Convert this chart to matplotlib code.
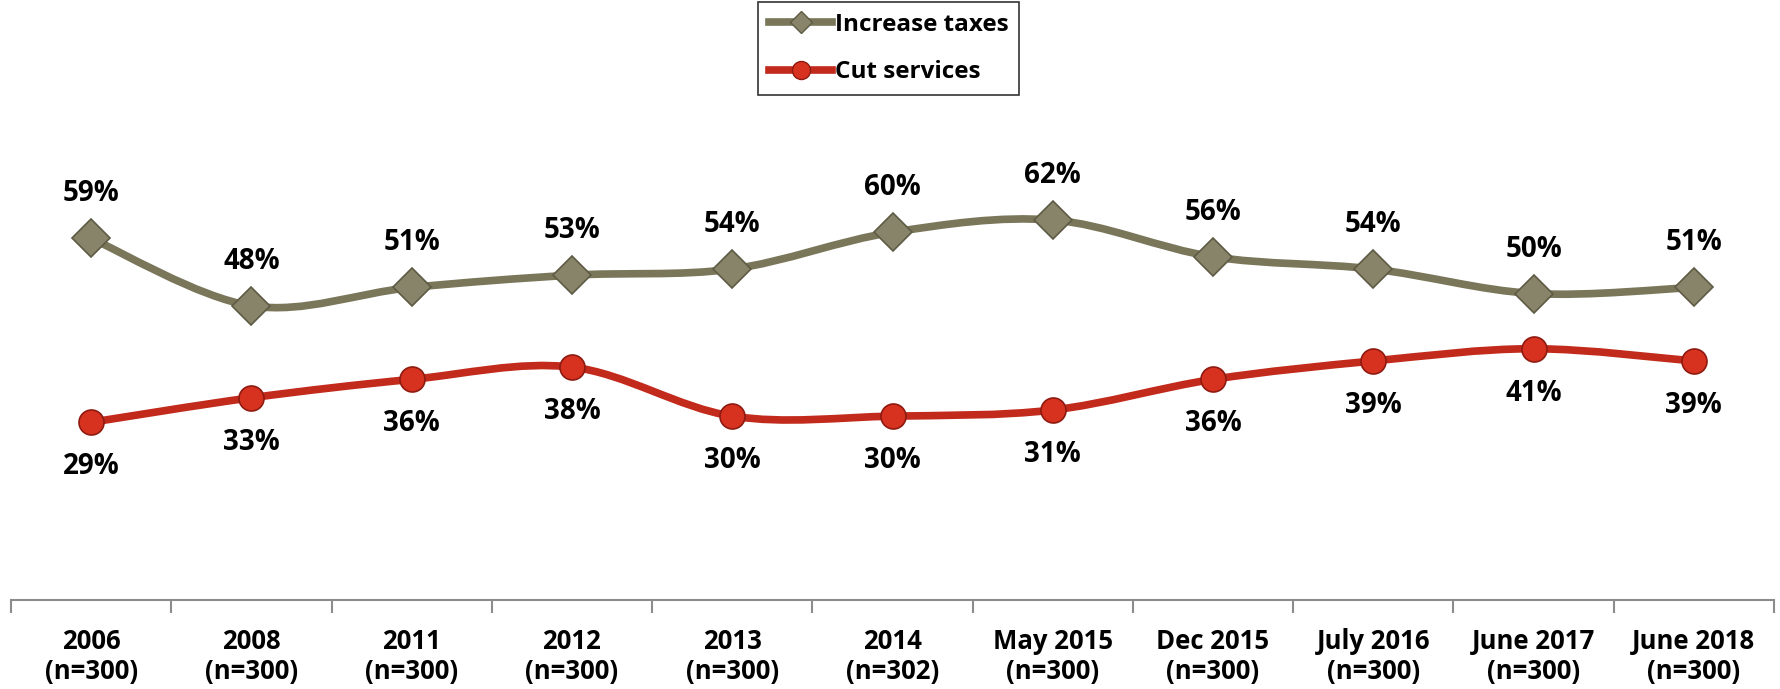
import matplotlib
matplotlib.use("Agg")
import matplotlib.pyplot as plt
from matplotlib.path import Path
from matplotlib.patches import PathPatch
from matplotlib.lines import Line2D

periods = ["2006", "2008", "2011", "2012", "2013", "2014", "May 2015",
           "Dec 2015", "July 2016", "June 2017", "June 2018"]
sample_sizes = [300, 300, 300, 300, 300, 302, 300, 300, 300, 300, 300]
increase_taxes = [59, 48, 51, 53, 54, 60, 62, 56, 54, 50, 51]
cut_services = [29, 33, 36, 38, 30, 30, 31, 36, 39, 41, 39]

TAX_COLOR = "#79765a"
CUT_COLOR = "#c22a1c"

plt.rcParams["font.family"] = ["Open Sans", "DejaVu Sans"]
plt.rcParams["font.weight"] = "bold"


def smooth_path(xs, ys):
    # Excel-style smoothed line: cubic bezier through every point
    verts = [(xs[0], ys[0])]
    codes = [Path.MOVETO]
    n = len(xs)
    for i in range(n - 1):
        x0, y0 = (xs[i - 1], ys[i - 1]) if i > 0 else (xs[i], ys[i])
        x1, y1 = xs[i], ys[i]
        x2, y2 = xs[i + 1], ys[i + 1]
        x3, y3 = (xs[i + 2], ys[i + 2]) if i + 2 < n else (x2, y2)
        c1 = (x1 + (x2 - x0) / 6, y1 + (y2 - y0) / 6)
        c2 = (x2 - (x3 - x1) / 6, y2 - (y3 - y1) / 6)
        verts += [c1, c2, (x2, y2)]
        codes += [Path.CURVE4] * 3
    return Path(verts, codes)


fig = plt.figure(figsize=(17.81, 6.89), dpi=100)
ax = fig.add_axes([11 / 1781, 89 / 689, (1774 - 11) / 1781, 600 / 689])
ax.set_xlim(-0.5, len(periods) - 0.5)
ax.set_ylim(0, 97.9)

x = list(range(len(periods)))

for vals, color in [(increase_taxes, TAX_COLOR), (cut_services, CUT_COLOR)]:
    ax.add_patch(PathPatch(smooth_path(x, vals), facecolor="none",
                           edgecolor=color, lw=5.5, capstyle="round",
                           zorder=2))

ax.plot(x, increase_taxes, linestyle="none", marker="D", markersize=19,
        markerfacecolor="#88846a", markeredgecolor="#5e5b44",
        markeredgewidth=1.2, zorder=3)
ax.plot(x, cut_services, linestyle="none", marker="o", markersize=18,
        markerfacecolor="#d7321f", markeredgecolor="#8e1a10",
        markeredgewidth=1.2, zorder=3)

for xi, v in zip(x, increase_taxes):
    ax.annotate(f"{v}%", (xi, v), xytext=(0, 32), textcoords="offset points",
                ha="center", va="center", fontsize=20, fontweight="bold")
for xi, v in zip(x, cut_services):
    ax.annotate(f"{v}%", (xi, v), xytext=(0, -32), textcoords="offset points",
                ha="center", va="center", fontsize=20, fontweight="bold")

for side in ["top", "right", "left"]:
    ax.spines[side].set_visible(False)
ax.spines["bottom"].set_color("#8c8c8c")
ax.spines["bottom"].set_linewidth(1.5)
ax.set_yticks([])

ax.set_xticks(x)
ax.set_xticklabels([f"{p}\n(n={n})" for p, n in zip(periods, sample_sizes)],
                   fontsize=18.5, fontweight="bold", linespacing=1.15)
ax.tick_params(axis="x", which="major", length=0, pad=20)
ax.set_xticks([i - 0.5 for i in range(len(periods) + 1)], minor=True)
ax.tick_params(axis="x", which="minor", length=9, width=1.5, color="#8c8c8c",
               direction="out")

handles = [
    Line2D([], [], color=TAX_COLOR, lw=5.5, marker="D", markersize=11,
           markerfacecolor="#88846a", markeredgecolor="#5e5b44"),
    Line2D([], [], color=CUT_COLOR, lw=5.5, marker="o", markersize=13,
           markerfacecolor="#d7321f", markeredgecolor="#8e1a10"),
]
leg = fig.legend(handles, ["Increase taxes", "Cut services"],
                 loc="upper left", bbox_to_anchor=(758 / 1781, 1 - 2 / 689),
                 borderaxespad=0, frameon=True, fancybox=False,
                 handlelength=2.6, handletextpad=0.1, labelspacing=0.95,
                 borderpad=0.45, prop={"weight": "bold", "size": 17.5})
leg.get_frame().set_edgecolor("black")
leg.get_frame().set_linewidth(1.2)

fig.savefig("out.png", dpi=100)
